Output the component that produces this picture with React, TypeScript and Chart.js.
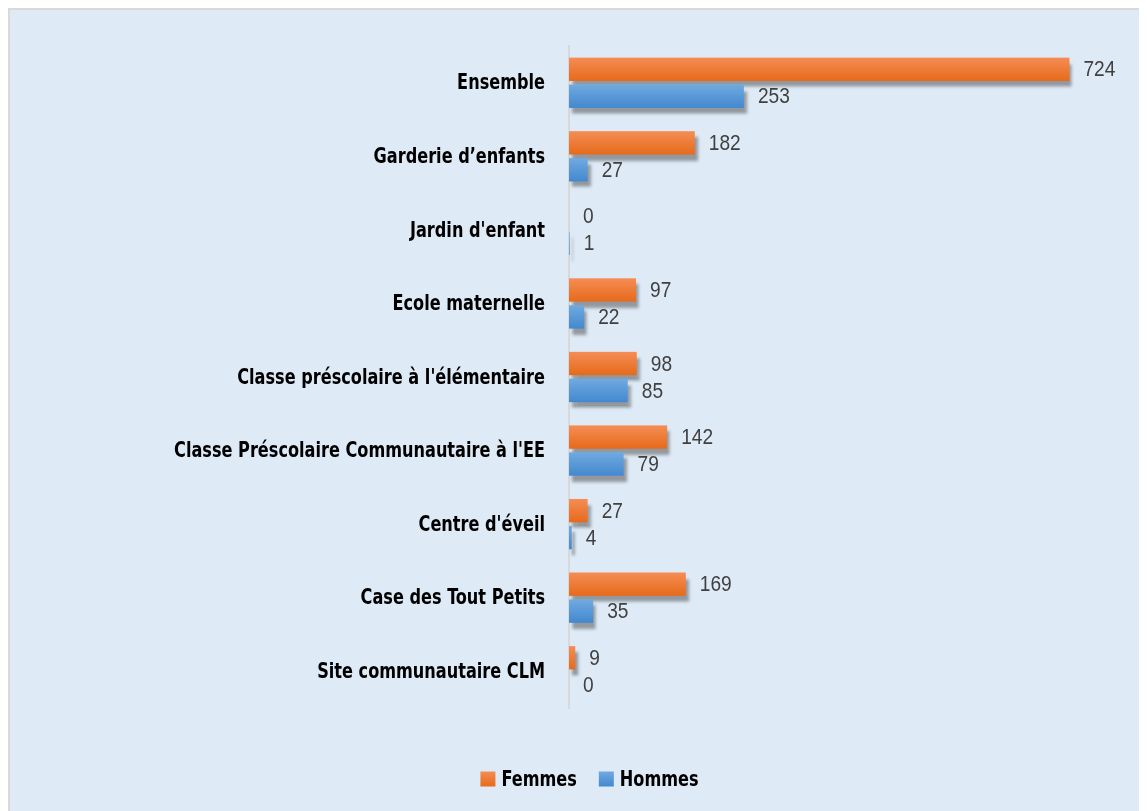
import React, { useEffect, useRef } from "react";
import { Chart, registerables } from "chart.js";
Chart.register(...registerables);

const categories = [
  "Ensemble",
  "Garderie d’enfants",
  "Jardin d'enfant",
  "Ecole maternelle",
  "Classe préscolaire à l'élémentaire",
  "Classe Préscolaire Communautaire à l'EE",
  "Centre d'éveil",
  "Case des Tout Petits",
  "Site communautaire CLM",
];
const femmes = [724, 182, 0, 97, 98, 142, 27, 169, 9];
const hommes = [253, 27, 1, 22, 85, 79, 4, 35, 0];
const seriesLabels = ["Femmes", "Hommes"];
const xMax = 800;

const LABEL_FONT = "'DejaVu Sans Condensed', 'DejaVu Sans', sans-serif";
const VALUE_FONT = "'Liberation Sans', Arial, sans-serif";
const LABEL_SX = 0.815;
const VALUE_SX = 0.87;
const gradStops = [
  ["#F58D55", "#E66A1A"],
  ["#70AAE0", "#4388CF"],
];

function fillGrad(ctx: CanvasRenderingContext2D, i: number, top: number, h: number) {
  const g = ctx.createLinearGradient(0, top, 0, top + h);
  g.addColorStop(0, gradStops[i][0]);
  g.addColorStop(1, gradStops[i][1]);
  return g;
}

function scaledText(
  ctx: CanvasRenderingContext2D,
  text: string,
  x: number,
  y: number,
  sx: number,
  align: CanvasTextAlign
) {
  ctx.save();
  ctx.translate(x, y);
  ctx.scale(sx, 1);
  ctx.textAlign = align;
  ctx.fillText(text, 0, 0);
  ctx.restore();
}

const barPlugin = {
  id: "customBars",
  afterDatasetsDraw(chart: any) {
    const ctx: CanvasRenderingContext2D = chart.ctx;
    chart.data.datasets.forEach((ds: any, di: number) => {
      const meta = chart.getDatasetMeta(di);
      meta.data.forEach((el: any) => {
        const { x, y, base, height } = el.getProps(["x", "y", "base", "height"], true);
        const left = Math.min(base, x);
        const w = Math.abs(x - base);
        const top = y - height / 2;
        if (w <= 0) return;
        ctx.save();
        ctx.shadowColor = "rgba(70,70,70,0.5)";
        ctx.shadowOffsetX = 3;
        ctx.shadowOffsetY = 6;
        ctx.shadowBlur = 3;
        ctx.fillStyle = fillGrad(ctx, di, top, height);
        ctx.fillRect(left, top, w, height);
        ctx.restore();
      });
    });
    ctx.save();
    ctx.font = `22px ${VALUE_FONT}`;
    ctx.fillStyle = "#404040";
    ctx.textBaseline = "middle";
    chart.data.datasets.forEach((ds: any, di: number) => {
      const meta = chart.getDatasetMeta(di);
      meta.data.forEach((el: any, i: number) => {
        const { x, y } = el.getProps(["x", "y"], true);
        scaledText(ctx, String(ds.data[i]), x + 14, y + 1, VALUE_SX, "left");
      });
    });
    ctx.restore();
  },
  afterDraw(chart: any) {
    const ctx: CanvasRenderingContext2D = chart.ctx;
    // category labels (y scale ticks)
    const ys = chart.scales.y;
    ctx.save();
    ctx.font = `bold 22px ${LABEL_FONT}`;
    ctx.fillStyle = "#000";
    ctx.textBaseline = "middle";
    ys.ticks.forEach((t: any, i: number) => {
      const label = ys.getLabelForValue(t.value);
      scaledText(ctx, label, ys.right - 24, ys.getPixelForTick(i) + 1, LABEL_SX, "right");
    });
    ctx.restore();

    // legend
    ctx.save();
    ctx.font = `bold 22px ${LABEL_FONT}`;
    ctx.textBaseline = "middle";
    const box = 15;
    const gapText = 6;
    const gapItem = 22;
    const widths = seriesLabels.map((l) => ctx.measureText(l).width * LABEL_SX);
    const total = widths.reduce((a, b) => a + b, 0) + seriesLabels.length * (box + gapText) + gapItem;
    let x = 579.5 - total / 2;
    const cy = 769;
    seriesLabels.forEach((l, i) => {
      ctx.fillStyle = fillGrad(ctx, i, cy - box / 2, box);
      ctx.fillRect(x, cy - box / 2, box, box);
      x += box + gapText;
      ctx.fillStyle = "#000";
      scaledText(ctx, l, x, cy + 1, LABEL_SX, "left");
      x += widths[i] + gapItem;
    });
    ctx.restore();
  },
};

export default function App() {
  const ref = useRef<HTMLCanvasElement>(null);
  useEffect(() => {
    if (!ref.current) return;
    const chart = new Chart(ref.current, {
      type: "bar",
      data: {
        labels: categories,
        datasets: [
          { label: seriesLabels[0], data: femmes, backgroundColor: "rgba(0,0,0,0)" },
          { label: seriesLabels[1], data: hommes, backgroundColor: "rgba(0,0,0,0)" },
        ],
      },
      options: {
        indexAxis: "y",
        responsive: false,
        animation: false,
        categoryPercentage: 0.733,
        barPercentage: 0.866,
        layout: { padding: { top: 36, bottom: 103, left: 0, right: 25 } },
        plugins: { legend: { display: false }, tooltip: { enabled: false } },
        scales: {
          x: { display: false, min: 0, max: xMax },
          y: {
            afterFit: (s: any) => {
              s.width = 559;
            },
            grid: { display: false, drawTicks: false },
            border: { display: true, color: "#D9D9D9", width: 2 },
            ticks: {
              padding: 24,
              color: "rgba(0,0,0,0)",
              font: { family: LABEL_FONT, size: 18, weight: "bold" },
            },
          },
        },
      },
      plugins: [barPlugin],
    } as any);
    return () => chart.destroy();
  }, []);
  return (
    <div
      style={{
        width: 1137,
        height: 801,
        borderTop: "2px solid #D9D9D9",
        borderLeft: "2px solid #D9D9D9",
        background: "#DEEAF6",
      }}
    >
      <canvas ref={ref} width={1137} height={801} style={{ display: "block" }} />
    </div>
  );
}
